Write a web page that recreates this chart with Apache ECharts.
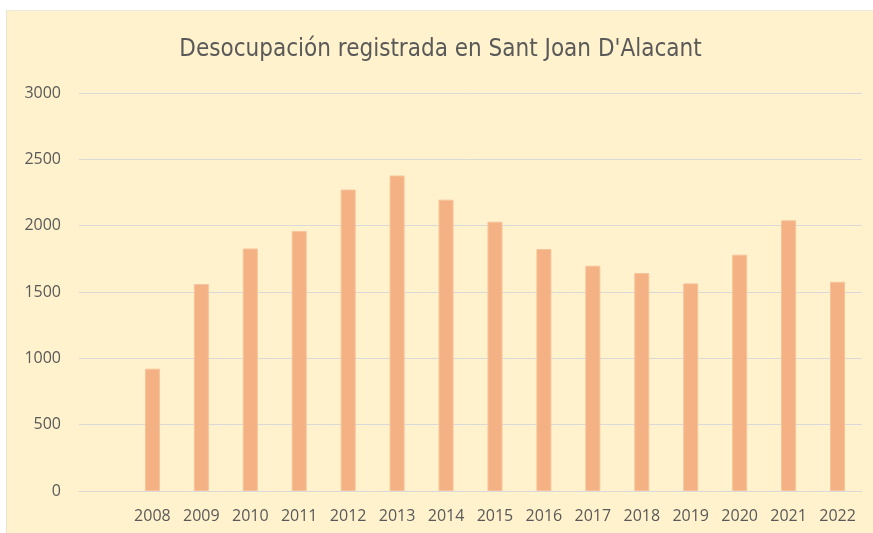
<!DOCTYPE html>
<html>
<head>
<meta charset="utf-8">
<script src="https://cdn.jsdelivr.net/npm/echarts@6/dist/echarts.min.js"></script>
<style>
  html, body { margin: 0; padding: 0; background: #ffffff; }
  #container { position: absolute; left: 6px; top: 10px; width: 867px; height: 523px;
    background: #FFF2CC; border-left: 1px solid #e8e2d0; border-top: 1px solid #eeeae0; }
</style>
</head>
<body>
<div id="container"></div>
<script>
// first category is empty on purpose (gap before 2008)
var years = ['', '2008', '2009', '2010', '2011', '2012', '2013', '2014', '2015',
             '2016', '2017', '2018', '2019', '2020', '2021', '2022'];
var parados = [null, 922, 1560, 1828, 1960, 2272, 2378, 2196, 2030,
               1824, 1698, 1643, 1565, 1781, 2040, 1577];
var yTicks = [0, 500, 1000, 1500, 2000, 2500, 3000];

var dom = document.getElementById('container');
var myChart = echarts.init(dom);
var option = {
    backgroundColor: '#FFF2CC',
    animation: false,
    title: {
        text: 'Desocupación registrada en Sant Joan D\'Alacant',
        left: 'center',
        top: 22,
        textStyle: {
            fontFamily: 'DejaVu Sans Condensed, Roboto',
            fontWeight: 'normal',
            fontSize: 24,
            color: '#595959'
        }
    },
    grid: {
        left: 72,
        right: 12,
        top: 82,
        bottom: 43
    },
    xAxis: {
        type: 'category',
        data: years,
        axisLine: { show: true, lineStyle: { color: '#D9D9D9' } },
        axisTick: { show: false },
        axisLabel: {
            color: '#595959',
            fontFamily: 'Open Sans',
            fontSize: 16,
            margin: 17
        }
    },
    yAxis: {
        type: 'value',
        min: yTicks[0],
        max: yTicks[yTicks.length - 1],
        interval: 500,
        axisLine: { show: false },
        axisTick: { show: false },
        splitLine: { lineStyle: { color: '#D9D9D9' } },
        axisLabel: {
            color: '#595959',
            fontFamily: 'Open Sans',
            fontSize: 16,
            margin: 18,
            formatter: function (v) { return String(v); }
        }
    },
    series: [{
        name: 'Desocupación',
        type: 'bar',
        data: parados,
        barWidth: 15,
        itemStyle: {
            color: '#F4B183',
            borderColor: '#F7C39A',
            borderWidth: 1
        }
    }]
};
myChart.setOption(option);
</script>
</body>
</html>
